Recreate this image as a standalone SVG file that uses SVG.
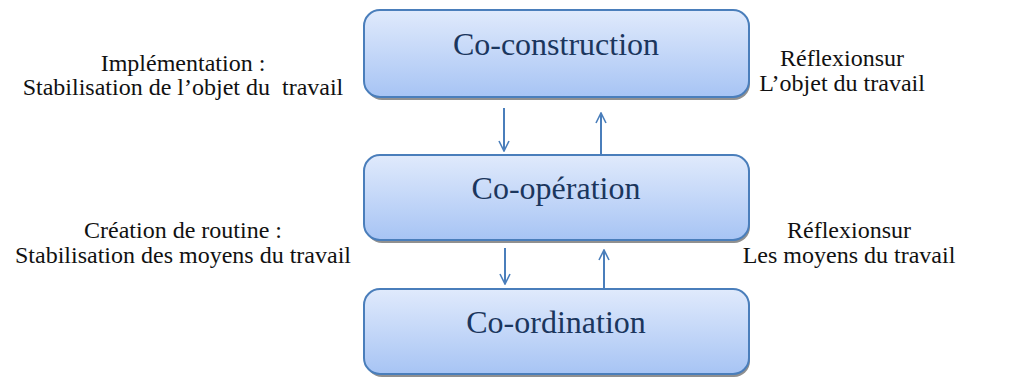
<svg xmlns="http://www.w3.org/2000/svg" width="1017" height="379" viewBox="0 0 1017 379">
  <defs>
    <linearGradient id="boxFill" x1="0" y1="0" x2="0" y2="1">
      <stop offset="0" stop-color="#e0eafc"/>
      <stop offset="1" stop-color="#a7c4f4"/>
    </linearGradient>
    <marker id="head" viewBox="0 0 12 12" refX="11" refY="6" markerWidth="12" markerHeight="12" markerUnits="userSpaceOnUse" orient="auto">
      <path d="M1,1 L11,6 L1,11" fill="none" stroke="#4a7ebb" stroke-width="1.6"/>
    </marker>
  </defs>
  <style>
    .shadow { fill: #909090; }
    .box { fill: url(#boxFill); stroke: #4a7ebb; stroke-width: 2; }
    .title { font-size: 32px; fill: #1b365d; text-anchor: middle; }
    .note { font-size: 24px; fill: #111111; text-anchor: middle; }
    .link { stroke: #4a7ebb; stroke-width: 2; fill: none; marker-end: url(#head); }
  </style>
  <rect width="1017" height="379" fill="#ffffff"/>

  <g id="co-construction" font-family="Liberation Serif, DejaVu Serif, serif">
    <rect class="shadow" x="366" y="13" width="384" height="87" rx="16"/>
    <rect class="box" x="364" y="10" width="385" height="87" rx="16"/>
    <text class="title" x="556" y="55">Co-construction</text>
  </g>

  <g id="co-operation" font-family="Liberation Serif, DejaVu Serif, serif">
    <rect class="shadow" x="366" y="158" width="384" height="85" rx="16"/>
    <rect class="box" x="364" y="155" width="385" height="85" rx="16"/>
    <text class="title" x="556" y="199">Co-opération</text>
  </g>

  <g id="co-ordination" font-family="Liberation Serif, DejaVu Serif, serif">
    <rect class="shadow" x="366" y="292" width="384" height="85" rx="16"/>
    <rect class="box" x="364" y="289" width="385" height="85" rx="16"/>
    <text class="title" x="556" y="333">Co-ordination</text>
  </g>

  <g id="connectors">
    <line class="link" x1="504" y1="108" x2="504" y2="151"/>
    <line class="link" x1="601" y1="154" x2="601" y2="113"/>
    <line class="link" x1="505" y1="248" x2="505" y2="284"/>
    <line class="link" x1="604" y1="288" x2="604" y2="250"/>
  </g>

  <g id="label-implementation" font-family="Liberation Serif, DejaVu Serif, serif">
    <text class="note" x="183" y="71">Implémentation :</text>
    <text class="note" x="183" y="95" xml:space="preserve">Stabilisation de l’objet du  travail</text>
  </g>
  <g id="label-reflexion-objet" font-family="Liberation Serif, DejaVu Serif, serif">
    <text class="note" x="842" y="66">Réflexionsur</text>
    <text class="note" x="842" y="91">L’objet du travail</text>
  </g>
  <g id="label-routine" font-family="Liberation Serif, DejaVu Serif, serif">
    <text class="note" x="183" y="238">Création de routine :</text>
    <text class="note" x="183" y="263">Stabilisation des moyens du travail</text>
  </g>
  <g id="label-reflexion-moyens" font-family="Liberation Serif, DejaVu Serif, serif">
    <text class="note" x="849" y="238">Réflexionsur</text>
    <text class="note" x="849" y="263">Les moyens du travail</text>
  </g>
</svg>
